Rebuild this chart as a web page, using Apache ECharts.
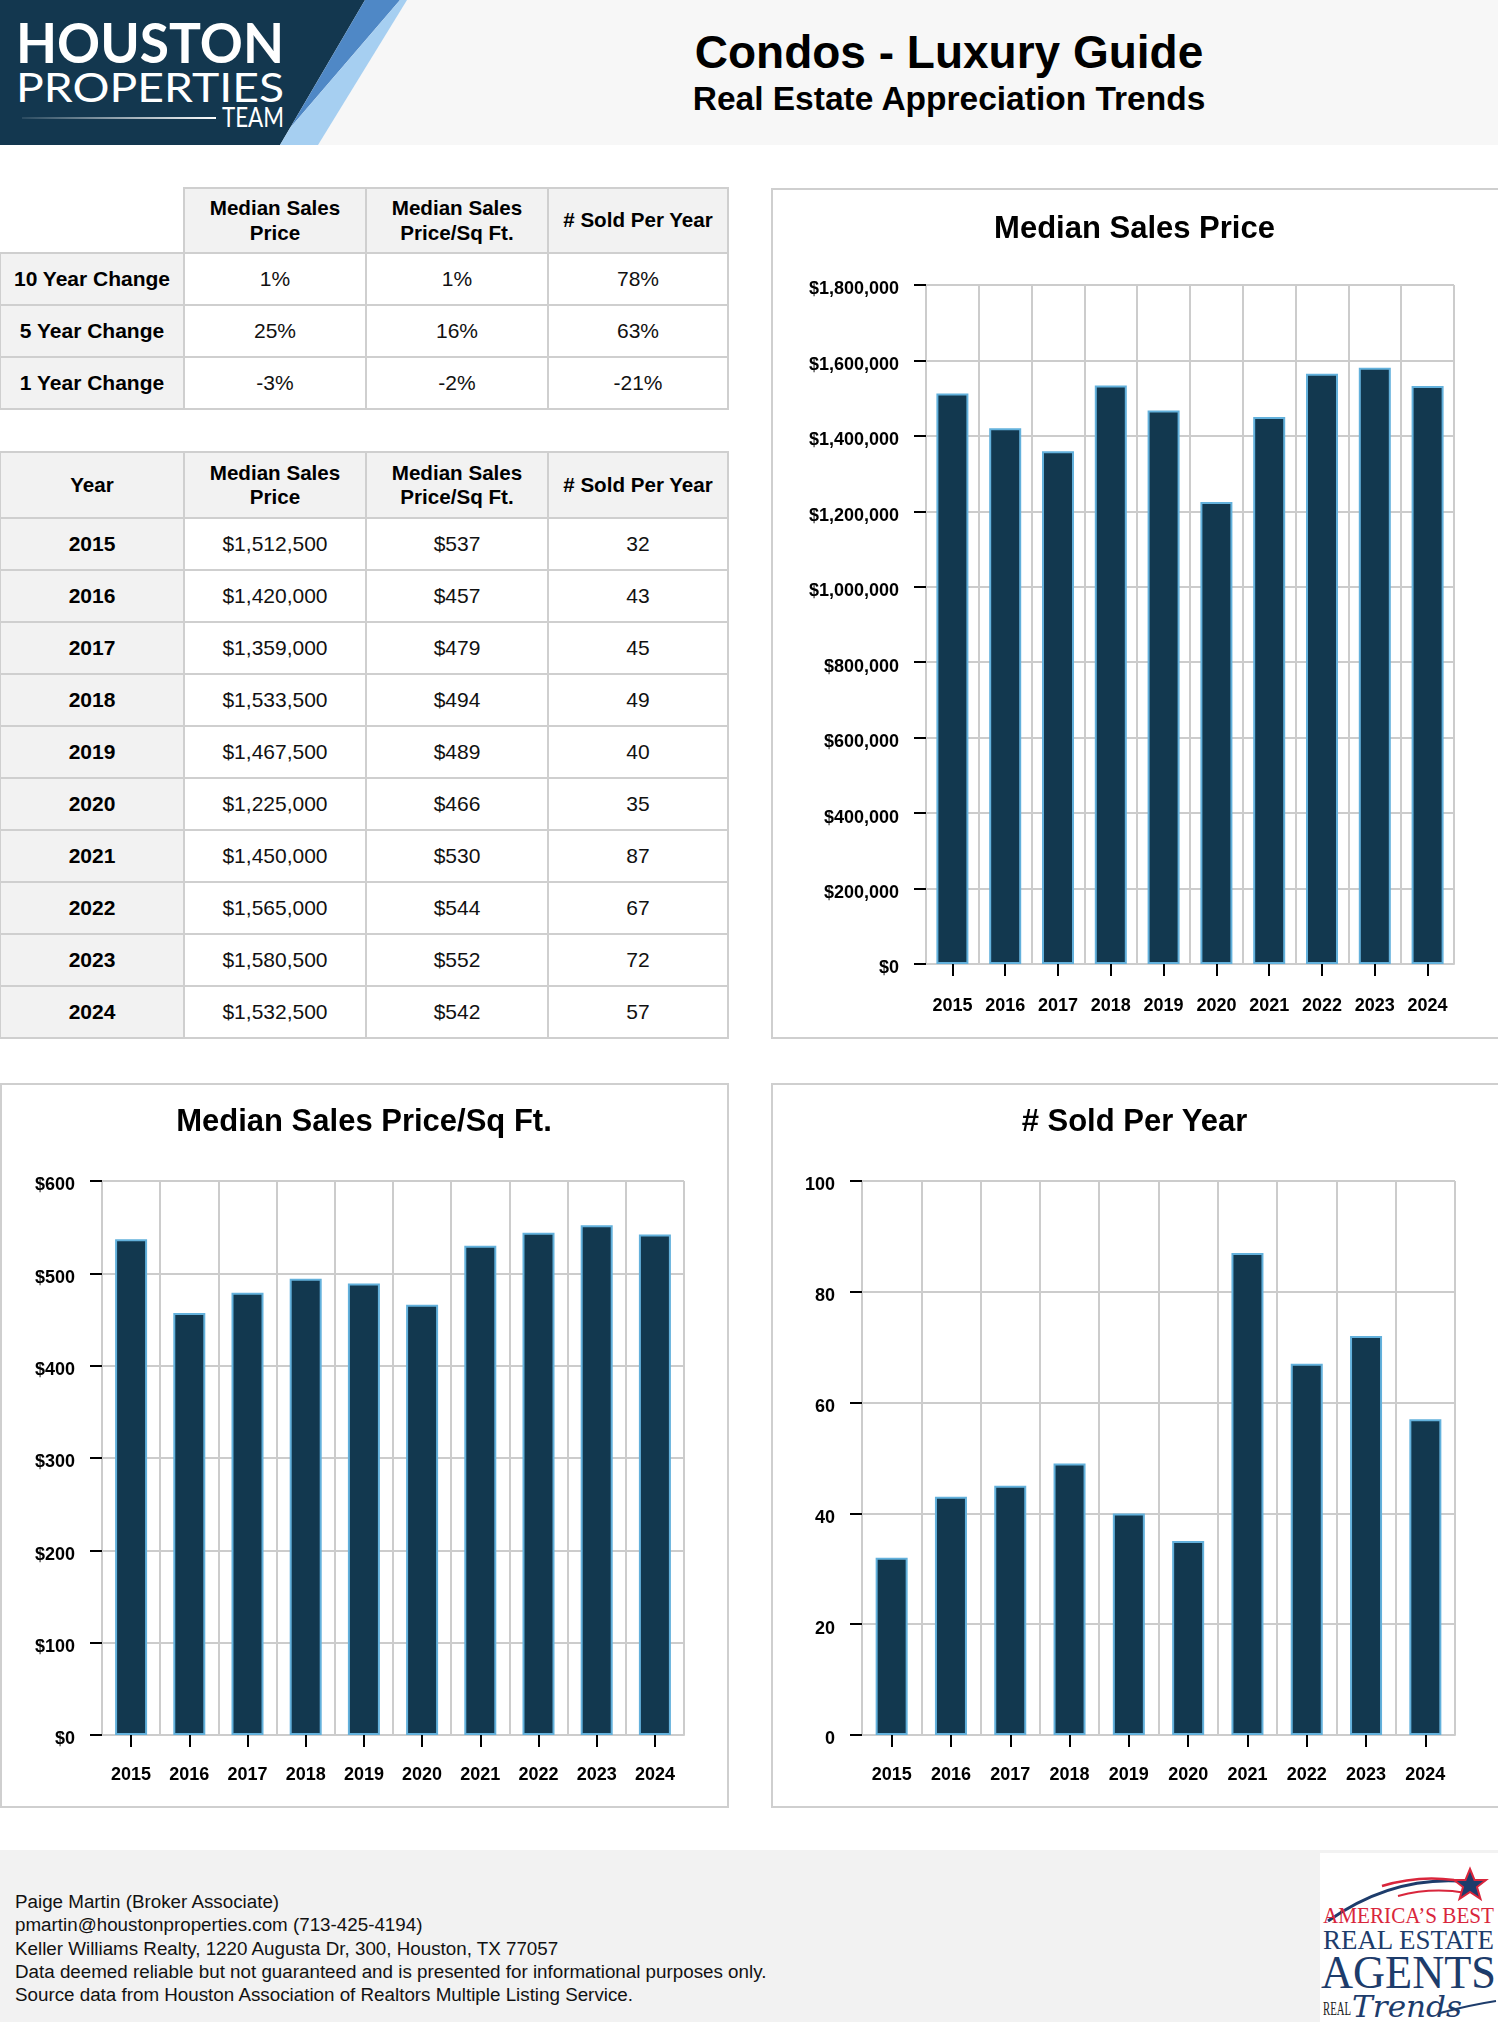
<!DOCTYPE html>
<html><head><meta charset="utf-8">
<script src="https://cdn.jsdelivr.net/npm/echarts/dist/echarts.min.js"></script>
<style>
html,body{margin:0;padding:0;}
body{width:1498px;height:2022px;overflow:hidden;position:relative;background:#fff;font-family:"Liberation Sans",Arial,sans-serif;color:#000;}
.abs{position:absolute;}
.cell{position:absolute;box-sizing:border-box;border:2px solid #cfcfcf;display:flex;align-items:center;justify-content:center;text-align:center;}
.hd{background:#f2f2f2;font-weight:bold;font-size:20.6px;line-height:24.5px;}
.lb{background:#f2f2f2;font-weight:bold;font-size:21px;}
.vl{background:#fff;font-size:21px;color:#111;}
.panel{position:absolute;box-sizing:border-box;border:2px solid #cfcfcf;background:#fff;}
.foot{font-size:18.8px;line-height:23.3px;color:#111;}
</style>
</head><body>
<script>
// ---------- DATA ----------
const years = ['2015','2016','2017','2018','2019','2020','2021','2022','2023','2024'];
const medianPrice = [1512500,1420000,1359000,1533500,1467500,1225000,1450000,1565000,1580500,1532500];
const medianPpsf = [537,457,479,494,489,466,530,544,552,542];
const soldPerYear = [32,43,45,49,40,35,87,67,72,57];

const changeLabels = ['10 Year Change','5 Year Change','1 Year Change'];
const changePrice = ['1%','25%','-3%'];
const changePpsf = ['1%','16%','-2%'];
const changeSold = ['78%','63%','-21%'];

const metricHeaders = ['Median Sales\nPrice','Median Sales\nPrice/Sq Ft.','# Sold Per Year'];
const yearHeader = 'Year';

const chartTitles = ['Median Sales Price','Median Sales Price/Sq Ft.','# Sold Per Year'];
const priceAxisMax = 1800000, priceAxisStep = 200000;
const ppsfAxisMax = 600, ppsfAxisStep = 100;
const soldAxisMax = 100, soldAxisStep = 20;

const pageTitle = 'Condos - Luxury Guide';
const pageSubtitle = 'Real Estate Appreciation Trends';
const footerLines = [
  'Paige Martin (Broker Associate)',
  'pmartin@houstonproperties.com (713-425-4194)',
  'Keller Williams Realty, 1220 Augusta Dr, 300, Houston, TX 77057',
  'Data deemed reliable but not guaranteed and is presented for informational purposes only.',
  'Source data from Houston Association of Realtors Multiple Listing Service.'
];
</script>

<!-- header band -->
<div class="abs" style="left:0;top:0;width:1498px;height:145px;background:#f7f7f7;"></div>
<svg class="abs" style="left:0;top:0;" width="420" height="145" viewBox="0 0 420 145">
  <defs>
    <linearGradient id="lg" x1="0" x2="1" y1="0" y2="0">
      <stop offset="0" stop-color="#ffffff" stop-opacity="0.1"/>
      <stop offset="1" stop-color="#ffffff" stop-opacity="1"/>
    </linearGradient>
  </defs>
  <polygon points="0,0 365,0 280,145 0,145" fill="#13374f"/>
  <polygon points="365,0 400,0 290,128" fill="#4f88c6"/>
  <polygon points="400,0 407,0 318,145 280,145 290,128" fill="#a6cff1"/>
  <text x="16" y="63" fill="#fff" font-family="Lato, 'Open Sans', sans-serif" font-weight="700" font-size="56" textLength="268" lengthAdjust="spacingAndGlyphs">HOUSTON</text>
  <text x="16" y="102" fill="#fff" font-family="Lato, 'Open Sans', sans-serif" font-weight="400" font-size="40" textLength="268" lengthAdjust="spacingAndGlyphs">PROPERTIES</text>
  <rect x="22" y="117" width="194" height="2" fill="url(#lg)"/>
  <text x="222" y="127" fill="#fff" font-family="Lato, 'Open Sans', sans-serif" font-weight="400" font-size="26" textLength="62" lengthAdjust="spacingAndGlyphs">TEAM</text>
</svg>
<div id="ttl" class="abs" style="left:600px;top:25px;width:698px;text-align:center;font-weight:bold;font-size:46px;line-height:54px;"></div>
<div id="sub" class="abs" style="left:600px;top:79px;width:698px;text-align:center;font-weight:bold;font-size:33.5px;line-height:40px;"></div>

<div id="tables"></div>

<!-- chart panels -->
<div class="panel" style="left:771px;top:188px;width:760px;height:851px;"></div>
<div class="panel" style="left:0px;top:1083px;width:729px;height:725px;"></div>
<div class="panel" style="left:771px;top:1083px;width:760px;height:725px;"></div>
<div id="c1" class="abs" style="left:771px;top:188px;width:727px;height:850px;"></div>
<div id="c2" class="abs" style="left:0px;top:1083px;width:728px;height:724px;"></div>
<div id="c3" class="abs" style="left:771px;top:1083px;width:727px;height:724px;"></div>

<!-- footer -->
<div class="abs" style="left:0;top:1850px;width:1498px;height:172px;background:#f2f2f2;"></div>
<div id="foot" class="abs foot" style="left:15px;top:1890px;width:1000px;"></div>
<div class="abs" style="left:1320px;top:1853px;width:178px;height:169px;background:#fff;"></div>
<svg class="abs" style="left:1320px;top:1853px;" width="178" height="169" viewBox="0 0 178 169">
  <path d="M8,68 Q70,24 140,28" stroke="#1d3c6b" stroke-width="3" fill="none"/>
  <path d="M62,33 Q98,22 134,27" stroke="#d9263c" stroke-width="2.5" fill="none"/>
  <path d="M78,43 Q112,34 146,40" stroke="#d9263c" stroke-width="2" fill="none"/>
  <polygon points="150,16 154.5,27 166,27 157,34 160.5,46 150,39 139.5,46 143,34 134,27 145.5,27" fill="#1d3c6b" stroke="#d9263c" stroke-width="2"/>
  <text x="3" y="70" fill="#d9263c" font-family="'Liberation Serif', serif" font-size="24" textLength="171" lengthAdjust="spacingAndGlyphs">AMERICA’S BEST</text>
  <text x="3" y="96" fill="#1d3c6b" font-family="'Liberation Serif', serif" font-size="28" textLength="171" lengthAdjust="spacingAndGlyphs">REAL ESTATE</text>
  <text x="1" y="135" fill="#1d3c6b" font-family="'Liberation Serif', serif" font-size="46" textLength="175" lengthAdjust="spacingAndGlyphs">AGENTS</text>
  <text x="3" y="162" fill="#222" font-family="'Liberation Serif', serif" font-size="18" textLength="28" lengthAdjust="spacingAndGlyphs">REAL</text>
  <text x="32" y="164" fill="#1d3c6b" font-family="'DejaVu Serif', serif" font-style="italic" font-size="30" textLength="110" lengthAdjust="spacingAndGlyphs">Trends</text>
  <path d="M120,160 Q150,152 176,148" stroke="#1d3c6b" stroke-width="2" fill="none"/>
</svg>

<script>
const FF = '"Liberation Sans", Arial, sans-serif';
document.getElementById('ttl').textContent = pageTitle;
document.getElementById('sub').textContent = pageSubtitle;
document.getElementById('foot').innerHTML = footerLines.map(s => '<div>' + s + '</div>').join('');

function fmtMoney(v){ return '$' + v.toLocaleString('en-US'); }

// ---------- TABLES ----------
const tablesEl = document.getElementById('tables');
function addCell(x, y, w, h, cls, html){
  const d = document.createElement('div');
  d.className = 'cell ' + cls;
  d.style.left = (x - 1) + 'px'; d.style.top = (y - 1) + 'px';
  d.style.width = (w + 2) + 'px'; d.style.height = (h + 2) + 'px';
  d.innerHTML = html;
  tablesEl.appendChild(d);
}
const colX = [0, 184, 366, 548, 728];
function buildTable(top, headH, rowH, firstHeader, rowLabels, cols){
  if (firstHeader !== null) addCell(colX[0], top, colX[1]-colX[0], headH, 'hd', firstHeader);
  metricHeaders.forEach((h, i) => addCell(colX[i+1], top, colX[i+2]-colX[i+1], headH, 'hd', h.replace('\n','<br>')));
  rowLabels.forEach((lab, r) => {
    const y = top + headH + r * rowH;
    addCell(colX[0], y, colX[1]-colX[0], rowH, 'lb', lab);
    cols.forEach((col, i) => addCell(colX[i+1], y, colX[i+2]-colX[i+1], rowH, 'vl', col[r]));
  });
}
buildTable(188, 65, 52, null, changeLabels, [changePrice, changePpsf, changeSold]);
buildTable(452, 66, 52, yearHeader, years,
  [medianPrice.map(fmtMoney), medianPpsf.map(v => '$' + v), soldPerYear.map(String)]);

// ---------- CHARTS ----------
function barChart(id, title, vals, yMax, yStep, fmt, grid, titleTop, xMargin){
  const c = echarts.init(document.getElementById(id), null, {renderer:'canvas'});
  c.setOption({
    animation:false,
    textStyle:{fontFamily:FF},
    title:{text:title, left:'center', top:titleTop,
      textStyle:{fontSize:31, fontWeight:'bold', color:'#000', fontFamily:FF}},
    grid:{left:grid[0], top:grid[1], width:grid[2], height:grid[3], containLabel:false},
    xAxis:{type:'category', data:years, boundaryGap:true,
      axisLine:{show:true, lineStyle:{color:'#cccccc', width:2}},
      axisTick:{show:true, alignWithLabel:true, length:12, lineStyle:{color:'#000', width:2}},
      axisLabel:{margin:xMargin, fontSize:18, fontWeight:'bold', color:'#000', fontFamily:FF, interval:0},
      splitLine:{show:true, interval:0, lineStyle:{color:'#cccccc', width:2}}},
    yAxis:{type:'value', min:0, max:yMax, interval:yStep,
      axisLine:{show:true, lineStyle:{color:'#cccccc', width:2}},
      axisTick:{show:true, length:12, lineStyle:{color:'#000', width:2}},
      axisLabel:{margin:27, fontSize:18, fontWeight:'bold', color:'#000', fontFamily:FF,
        verticalAlign:'top', lineHeight:9, formatter:fmt},
      splitLine:{show:true, lineStyle:{color:'#cccccc', width:2}}},
    series:[{type:'bar', data:vals, barWidth:32,
      itemStyle:{color:'#12384f', borderColor:'#63b1dc', borderWidth:2}}]
  });
}
barChart('c1', chartTitles[0], medianPrice, priceAxisMax, priceAxisStep, v => fmtMoney(v), [155, 97, 528, 679], 21, 33);
barChart('c2', chartTitles[1], medianPpsf, ppsfAxisMax, ppsfAxisStep, v => '$' + v, [102, 98, 582, 554], 19, 31);
barChart('c3', chartTitles[2], soldPerYear, soldAxisMax, soldAxisStep, v => String(v), [91, 98, 593, 554], 19, 31);
</script>
</body></html>
